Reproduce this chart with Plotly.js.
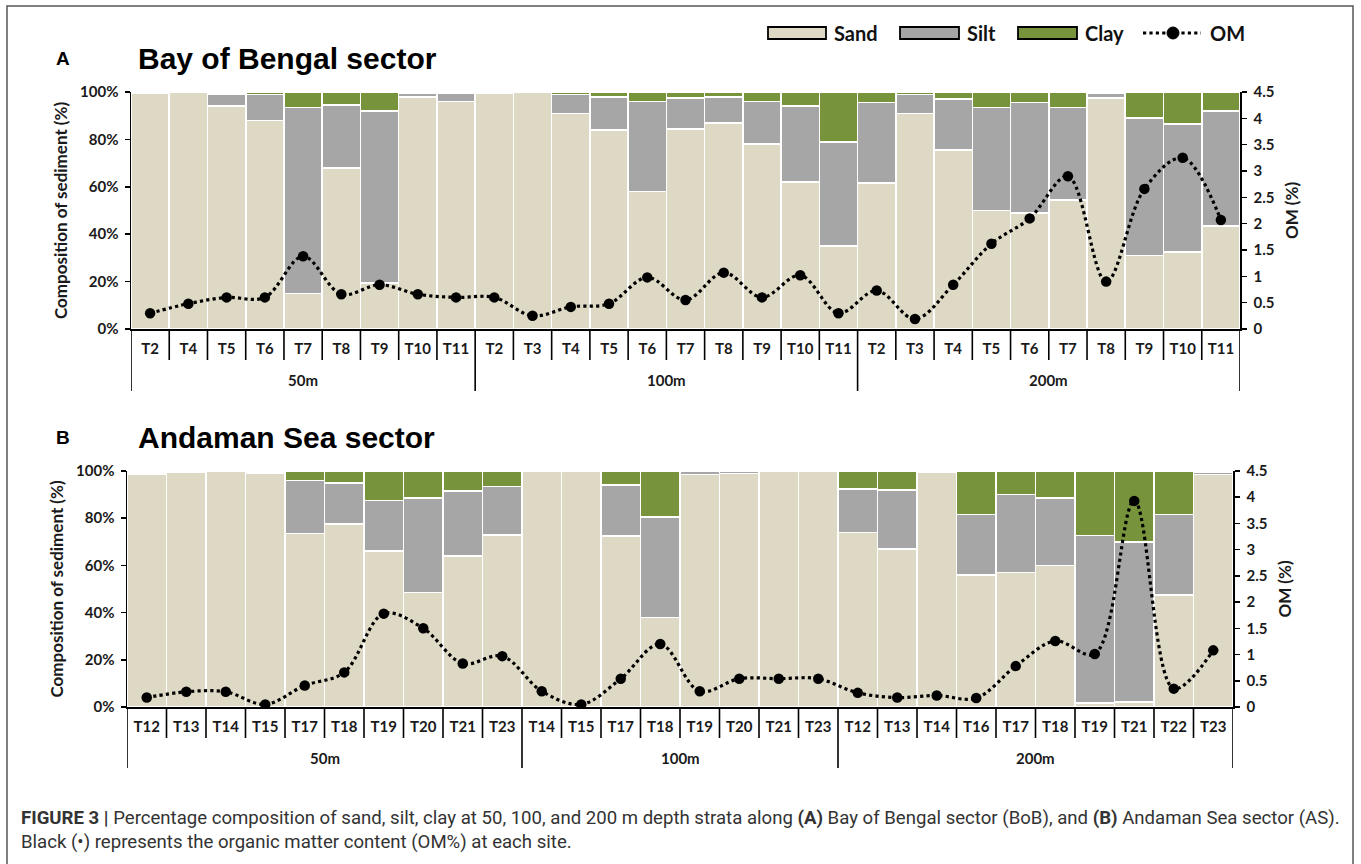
<!DOCTYPE html>
<html>
<head>
<meta charset="utf-8">
<script src="https://cdn.plot.ly/plotly-3.0.1.min.js"></script>
<style>html,body{margin:0;padding:0;background:#fff;}#chart{width:1361px;height:864px;}</style>
</head>
<body>
<div id="chart"></div>
<script>
// ---------- Panel A: Bay of Bengal sector ----------
var depthA = ['50m','50m','50m','50m','50m','50m','50m','50m','50m',
  '100m','100m','100m','100m','100m','100m','100m','100m','100m','100m',
  '200m','200m','200m','200m','200m','200m','200m','200m','200m','200m'];
var stationA = ['T2','T4','T5','T6','T7','T8','T9','T10','T11',
  'T2','T3','T4','T5','T6','T7','T8','T9','T10','T11',
  'T2','T3','T4','T5','T6','T7','T8','T9','T10','T11'];
var sandA = [99.5,100,94,88,15,68,19.5,98,96,
  99.5,100,91,84,58,84.5,87,78,62,35,
  61.5,91,75.5,50,49,54.5,97.5,31,32.5,43.5];
var siltA = [0,0,5,11,78.5,26.5,72.5,1.5,3.5,
  0,0,8,14,38,13,11,18,32,44,
  34,8,21.5,43.5,46.5,39,2,58,54,48.5];
var clayA = [0,0,0.5,1,6.5,5.5,8,0.5,0.5,
  0,0,1,2,4,2.5,2,4,6,21,
  4.5,1,3,6.5,4.5,6.5,0,11,13.5,8];
var omA = [0.30,0.48,0.60,0.60,1.38,0.66,0.84,0.66,0.60,
  0.60,0.25,0.42,0.48,0.98,0.55,1.07,0.60,1.02,0.30,
  0.73,0.19,0.84,1.62,2.10,2.90,0.90,2.66,3.25,2.07];

// ---------- Panel B: Andaman Sea sector ----------
var depthB = ['50m','50m','50m','50m','50m','50m','50m','50m','50m','50m',
  '100m','100m','100m','100m','100m','100m','100m','100m',
  '200m','200m','200m','200m','200m','200m','200m','200m','200m','200m'];
var stationB = ['T12','T13','T14','T15','T17','T18','T19','T20','T21','T23',
  'T14','T15','T17','T18','T19','T20','T21','T23',
  'T12','T13','T14','T16','T17','T18','T19','T21','T22','T23'];
var sandB = [98.8,99.5,100,99,73.5,77.5,66,48.5,64,73,
  100,100,72.5,38,98.5,99,100,100,
  74,67,99.3,56,57,60,1.7,2,47.5,98.5];
var siltB = [0.9,0,0,0,22.5,17.5,21.5,40,27.5,20.5,
  0,0,21.5,42.5,1.5,1,0,0,
  18.5,25,0,25.5,33,28.5,71,68,34,1.2];
var clayB = [0,0,0,0,4,5,12.5,11.5,8.5,6.5,
  0,0,6,19.5,0,0,0,0,
  7.5,8,0,18.5,10,11.5,27.3,30,18.5,0];
var omB = [0.18,0.29,0.29,0.05,0.41,0.66,1.78,1.50,0.83,0.97,
  0.30,0.05,0.54,1.20,0.30,0.54,0.54,0.54,
  0.27,0.18,0.22,0.17,0.78,1.26,1.01,3.93,0.35,1.08];

var compTicks = [0,20,40,60,80,100];
var compTickText = ['0%','20%','40%','60%','80%','100%'];
var seriesNames = ['Sand','Silt','Clay','OM'];
var colors = {Sand:'#DDD9C4', Silt:'#A6A6A6', Clay:'#77933C', OM:'#000000'};

var W = 1361, H = 864;
function px(x){return x/W;}
function py(y){return 1 - y/H;}

var LATO = 'Lato, "Open Sans", sans-serif';
var tickFont = {family:LATO, size:15, color:'#1a1a1a', weight:'bold'};
var titleFont = {family:LATO, size:17, color:'#1a1a1a', weight:'bold'};

function idx(arr){ return arr.map(function(_, i){ return i; }); }
var xA = idx(stationA), xB = idx(stationB);

function barTrace(name, xs, ys, xa, ya, text){
  return {type:'bar', name:name, x:xs, y:ys, xaxis:xa, yaxis:ya, width:1,
    marker:{color:colors[name], line:{color:'#ffffff', width:1.6}},
    showlegend:false, hovertext:text};
}
function omTrace(xs, ys, xa, ya, text){
  return {type:'scatter', mode:'lines+markers', name:'OM', x:xs, y:ys, xaxis:xa, yaxis:ya,
    line:{color:'#000', width:3.2, dash:'dot', shape:'spline', smoothing:1},
    marker:{color:'#000', size:10.5}, showlegend:false, hovertext:text};
}

var data = [
  barTrace('Sand', xA, sandA, 'x', 'y', stationA),
  barTrace('Silt', xA, siltA, 'x', 'y', stationA),
  barTrace('Clay', xA, clayA, 'x', 'y', stationA),
  omTrace(xA, omA, 'x', 'y2', stationA),
  barTrace('Sand', xB, sandB, 'x2', 'y3', stationB),
  barTrace('Silt', xB, siltB, 'x2', 'y3', stationB),
  barTrace('Clay', xB, clayB, 'x2', 'y3', stationB),
  omTrace(xB, omB, 'x2', 'y4', stationB)
];

function xAxis(domain, anchor, xs, labels){
  return {domain:domain, anchor:anchor, range:[-0.5, xs.length - 0.5],
    tickmode:'array', tickvals:xs, ticktext:labels, ticks:'',
    ticklabelstandoff:5,
    showline:true, linecolor:'#000', linewidth:1.5,
    tickfont:tickFont, showgrid:false, zeroline:false, fixedrange:true};
}
function yLeft(domain, anchor){
  return {domain:domain, anchor:anchor, range:[0,100], tickmode:'array',
    tickvals:compTicks, ticktext:compTickText,
    showline:true, linecolor:'#000', linewidth:1.5,
    ticks:'outside', ticklen:5, tickcolor:'#000', tickwidth:1.5, ticklabelstandoff:3,
    showgrid:false, zeroline:false, tickfont:tickFont,
    title:{text:'Composition of sediment (%)', font:titleFont, standoff:8}};
}
function yRight(overlay, anchor){
  return {overlaying:overlay, anchor:anchor, side:'right', range:[0,4.5], dtick:0.5, tick0:0,
    showline:true, linecolor:'#000', linewidth:1.5,
    ticks:'outside', ticklen:5, tickcolor:'#000', tickwidth:1.5, ticklabelstandoff:4,
    showgrid:false, zeroline:false, tickfont:tickFont,
    title:{text:'OM (%)', font:titleFont, standoff:12}};
}

var domAx = [px(131), px(1240)], domAy = [py(329), py(92)];
var domBx = [px(127), px(1233)], domBy = [py(707), py(471)];

var shapes = [
  // outer frame
  {type:'rect', xref:'paper', yref:'paper', x0:px(7), x1:px(1353), y0:-0.05, y1:py(6),
   line:{color:'#555', width:1.5}, fillcolor:'rgba(0,0,0,0)'}
];
var annotations = [];

// category separators (short) and depth-group dividers (long), plus group labels
function categoryFrame(xref, depths, axisY, tickBottom, divBottom, groupLabelY){
  var n = depths.length;
  for(var i = 0; i <= n; i++){
    var isDiv = (i === 0 || i === n || depths[i] !== depths[i-1]);
    shapes.push({type:'line', xref:xref, yref:'paper', x0:i-0.5, x1:i-0.5,
      y0:py(axisY), y1:py(isDiv ? divBottom : tickBottom), line:{color:'#000', width:1.6}});
  }
  var start = 0;
  for(var j = 1; j <= n; j++){
    if(j === n || depths[j] !== depths[j-1]){
      annotations.push({xref:xref, yref:'paper', x:(start + j - 1)/2, y:py(groupLabelY),
        xanchor:'center', yanchor:'middle', showarrow:false, text:depths[start],
        font:{family:LATO, size:15, color:'#1a1a1a', weight:'bold'}});
      start = j;
    }
  }
}
categoryFrame('x', depthA, 329, 360, 391, 380);
categoryFrame('x2', depthB, 707, 738, 768, 758);

// legend (drawn manually to match the wide swatches)
var legendItems = [
  {name:'Sand', x0:768, x1:826, tx:832},
  {name:'Silt', x0:900, x1:959, tx:965},
  {name:'Clay', x0:1018, x1:1077, tx:1083}
];
legendItems.forEach(function(it){
  shapes.push({type:'rect', xref:'paper', yref:'paper', x0:px(it.x0), x1:px(it.x1), y0:py(39), y1:py(27),
    fillcolor:colors[it.name], line:{color:'#000', width:1.8}});
  annotations.push({xref:'paper', yref:'paper', x:px(it.tx), y:py(33), xanchor:'left', yanchor:'middle',
    text:it.name, showarrow:false, font:{family:LATO, size:20, color:'#111', weight:'bold'}});
});
shapes.push({type:'line', xref:'paper', yref:'paper', x0:px(1143), x1:px(1201), y0:py(33), y1:py(33),
  line:{color:'#000', width:3.2, dash:'dot'}});
shapes.push({type:'circle', xref:'paper', yref:'paper', x0:px(1167), x1:px(1179), y0:py(39), y1:py(27),
  fillcolor:'#000', line:{color:'#000', width:1}});
annotations.push({xref:'paper', yref:'paper', x:px(1208), y:py(33), xanchor:'left', yanchor:'middle',
  text:seriesNames[3], showarrow:false, font:{family:LATO, size:20, color:'#111', weight:'bold'}});

// panel letters and titles
function panelTitle(letter, title, y){
  annotations.push({xref:'paper', yref:'paper', x:px(63), y:py(y), xanchor:'center', yanchor:'middle',
    text:letter, showarrow:false, font:{family:'"Liberation Sans", Arial, sans-serif', size:19, color:'#000', weight:'bold'}});
  annotations.push({xref:'paper', yref:'paper', x:px(136), y:py(y), xanchor:'left', yanchor:'middle',
    text:title, showarrow:false, font:{family:'"Liberation Sans", Arial, sans-serif', size:30, color:'#000', weight:'bold'}});
}
panelTitle('A', 'Bay of Bengal sector', 59);
panelTitle('B', 'Andaman Sea sector', 437);

// caption
var capFont = 'Roboto, "Liberation Sans", sans-serif';
annotations.push({xref:'paper', yref:'paper', x:px(19), y:py(818), xanchor:'left', yanchor:'middle', showarrow:false,
  text:'<b>FIGURE 3 |</b> Percentage composition of sand, silt, clay at 50, 100, and 200 m depth strata along <b>(A)</b> Bay of Bengal sector (BoB), and <b>(B)</b> Andaman Sea sector (AS).',
  font:{family:capFont, size:18.6, color:'#333'}});
annotations.push({xref:'paper', yref:'paper', x:px(19), y:py(842), xanchor:'left', yanchor:'middle', showarrow:false,
  text:'Black (\u2022) represents the organic matter content (OM%) at each site.',
  font:{family:capFont, size:18.6, color:'#333'}});

var layout = {
  width:W, height:H, margin:{l:0, r:0, t:0, b:0},
  paper_bgcolor:'#fff', plot_bgcolor:'#fff',
  barmode:'stack', bargap:0,
  showlegend:false,
  xaxis: xAxis(domAx, 'y', xA, stationA),
  yaxis: yLeft(domAy, 'x'),
  yaxis2: yRight('y', 'x'),
  xaxis2: xAxis(domBx, 'y3', xB, stationB),
  yaxis3: yLeft(domBy, 'x2'),
  yaxis4: yRight('y3', 'x2'),
  shapes: shapes,
  annotations: annotations
};

Plotly.newPlot('chart', data, layout, {displayModeBar:false, staticPlot:true});
</script>
</body>
</html>
